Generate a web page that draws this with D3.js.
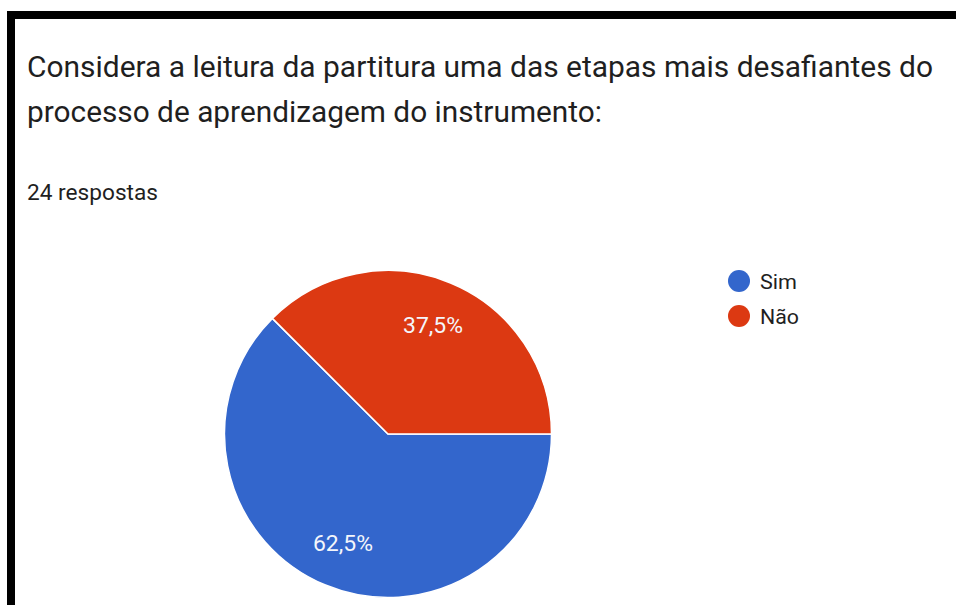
<!DOCTYPE html>
<html>
<head>
<meta charset="utf-8">
<script src="https://cdn.jsdelivr.net/npm/d3@7"></script>
<style>
  html, body { margin: 0; padding: 0; background: #fff; }
  svg { display: block; font-family: Roboto, "Noto Sans", sans-serif; }
</style>
</head>
<body>
<svg id="chart" width="960" height="605"></svg>
<script>
// Survey question, response count and answer shares
const titleLines = [
  "Considera a leitura da partitura uma das etapas mais desafiantes do",
  "processo de aprendizagem do instrumento:"
];
const responsesLabel = "24 respostas";
const categories = ["Sim", "Não"];
const values = [62.5, 37.5];
const colors = ["#3366cc", "#dc3912"];

const svg = d3.select("#chart");

// Frame: top and left black bars
svg.append("rect").attr("x", 7).attr("y", 11).attr("width", 949).attr("height", 8).attr("fill", "#000");
svg.append("rect").attr("x", 7).attr("y", 11).attr("width", 8).attr("height", 594).attr("fill", "#000");

// Title (two lines, fitted to the card's text width)
const titleWidths = [906, 575];
svg.append("g").selectAll("text")
  .data(titleLines)
  .join("text")
  .attr("x", 27)
  .attr("y", (d, i) => 77 + i * 45)
  .attr("font-size", 29.5)
  .attr("fill", "#1f1f1f")
  .attr("textLength", (d, i) => titleWidths[i])
  .attr("lengthAdjust", "spacingAndGlyphs")
  .text(d => d);

svg.append("text")
  .attr("x", 27).attr("y", 200)
  .attr("font-size", 22)
  .attr("fill", "#1f1f1f")
  .attr("textLength", 131)
  .attr("lengthAdjust", "spacingAndGlyphs")
  .text(responsesLabel);

// Pie
const cx = 388, cy = 434, radius = 163.5;
const color = d3.scaleOrdinal().domain(categories).range(colors);
const data = categories.map((c, i) => ({ cat: c, value: values[i] }));

const pie = d3.pie()
  .value(d => d.value)
  .sort(null)
  .startAngle(Math.PI / 2)
  .endAngle(Math.PI / 2 + 2 * Math.PI);

const arc = d3.arc().innerRadius(0).outerRadius(radius);
const labelArc = d3.arc().innerRadius(radius * 0.72).outerRadius(radius * 0.72);

const g = svg.append("g").attr("transform", `translate(${cx},${cy})`);
const arcs = pie(data);

g.selectAll("path")
  .data(arcs)
  .join("path")
  .attr("d", arc)
  .attr("fill", d => color(d.data.cat))
  .attr("stroke", "#fff")
  .attr("stroke-width", 1.5);

const fmt = v => d3.format(".1f")(v).replace(".", ",") + "%";
g.selectAll("text.val")
  .data(arcs)
  .join("text")
  .attr("class", "val")
  .attr("transform", d => `translate(${labelArc.centroid(d)})`)
  .attr("text-anchor", "middle")
  .attr("dy", "0.36em")
  .attr("font-size", 21.5)
  .attr("fill", "#f4f6fb")
  .attr("textLength", 60)
  .attr("lengthAdjust", "spacingAndGlyphs")
  .text(d => fmt(d.data.value));

// Legend
const legendWidths = [37, 39];
const legend = svg.append("g").attr("transform", "translate(739,281)");
const items = legend.selectAll("g")
  .data(categories)
  .join("g")
  .attr("transform", (d, i) => `translate(0,${i * 35})`);
items.append("circle").attr("r", 11).attr("fill", d => color(d));
items.append("text")
  .attr("x", 21).attr("dy", "0.36em")
  .attr("font-size", 21)
  .attr("fill", "#1f1f1f")
  .attr("textLength", (d, i) => legendWidths[i])
  .attr("lengthAdjust", "spacingAndGlyphs")
  .text(d => d);
</script>
</body>
</html>
